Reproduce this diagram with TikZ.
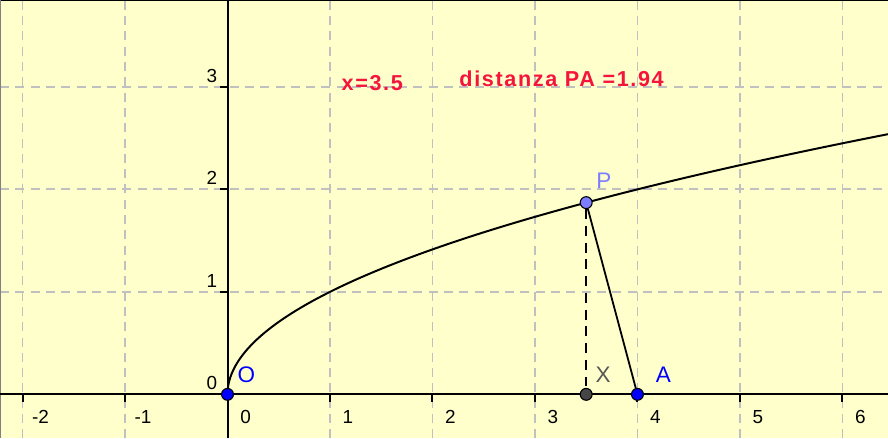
\documentclass[tikz,border=0pt]{standalone}
\usepackage{fontspec}
\setmainfont{Liberation Sans}
\newfontfamily\infofont[LetterSpace=7.5]{Liberation Sans}
\definecolor{ggbg}{RGB}{255,255,204}
\definecolor{gggrid}{RGB}{192,192,192}
\definecolor{ggred}{RGB}{245,20,60}
\definecolor{ggblue}{RGB}{0,0,255}
\definecolor{ggpt}{RGB}{125,125,255}
\definecolor{ggdark}{RGB}{70,70,70}
\usetikzlibrary{calc}

\begin{document}
\begin{tikzpicture}[x=2cm, y=2cm,
  gridline/.style={draw=gggrid, line width=1pt, dash pattern=on 5pt off 3.5pt},
  axisline/.style={line width=1.1pt, draw=black},
  ticklbl/.style={font=\fontsize{10.5}{12}\selectfont, inner sep=0pt},
  dot/.style={circle, draw=black, line width=0.6pt, minimum size=6.6pt, inner sep=0pt},
  ptlbl/.style={font=\fontsize{12.5}{14}\selectfont, inner sep=0pt, anchor=base west},
  info/.style={font=\infofont\fontsize{12}{14}\selectfont\bfseries, text=ggred, inner sep=0pt, anchor=base west},
  seg/.style={line width=1pt, draw=black},
  dashseg/.style={line width=1pt, draw=black, dash pattern=on 5.5pt off 3.8pt}
]
% Background
\fill[ggbg] (-2.22,-0.43) rectangle (6.445,3.848);
\useasboundingbox (-2.22,-0.43) rectangle (6.445,3.848);

% Grid
\foreach \x in {-2,...,6}
  \draw[gridline] (\x,-0.43) -- (\x,3.848);
\foreach \y in {1,2,3}
  \draw[gridline] (-2.22,\y) -- (6.445,\y);

% Frame
\draw[line width=1.1pt, draw=black] (-2.22,3.848) -- (6.445,3.848);
\draw[line width=1.1pt, draw=gray] (-2.22,-0.43) -- (-2.22,3.848);

% Axes and ticks
\draw[axisline] (-2.22,0) -- (6.445,0);
\draw[axisline] (0,-0.43) -- (0,3.848);
\foreach \x in {-2,-1,1,2,3,4,5,6}
  \draw[axisline] (\x,0) -- ++(0,-4pt);
\foreach \y in {1,2,3}
  \draw[axisline] (0,\y) -- ++(-4pt,0);

% Tick labels
\foreach \x in {-2,...,6}
  \node[ticklbl, anchor=base] (xl\x) at ([xshift=10pt, yshift=-16pt]\x,0) {\x};
\foreach \y in {0,1,2,3}
  \node[ticklbl, anchor=base east] (yl\y) at ([xshift=-5.5pt, yshift=2.6pt]0,\y) {\y};

% Curve y = sqrt(x)
\draw[line width=1.1pt] plot[domain=0:2.539, samples=120, smooth] ({\x*\x},\x);

% Points
\node[dot, fill=ggblue] (O) at (0,0) {};
\node[dot, fill=ggpt]   (P) at (3.5,{sqrt(3.5)}) {};
\node[dot, fill=ggdark] (X) at (3.5,0) {};
\node[dot, fill=ggblue] (A) at (4,0) {};

% Segments
\draw[dashseg] (P) -- (X);
\draw[seg] (P) -- (A);

% Point labels
\node[ptlbl, text=ggblue] (labO) at ([xshift=5.4pt, yshift=6.6pt]O.center) {O};
\node[ptlbl, text=ggpt]   (labP) at ([xshift=5.5pt, yshift=7.7pt]P.center) {P};
\node[ptlbl, text=ggdark!90] (labX) at ([xshift=5pt, yshift=6.6pt]X.center) {X};
\node[ptlbl, text=ggblue] (labA) at ([xshift=10pt, yshift=6.6pt]A.center) {A};

% Values
\node[info] (xval) at (1.11,2.96) {x=3.5};
\node[info] (dist) at (2.26,3.0) {distanza PA =1.94};
\end{tikzpicture}
\end{document}
